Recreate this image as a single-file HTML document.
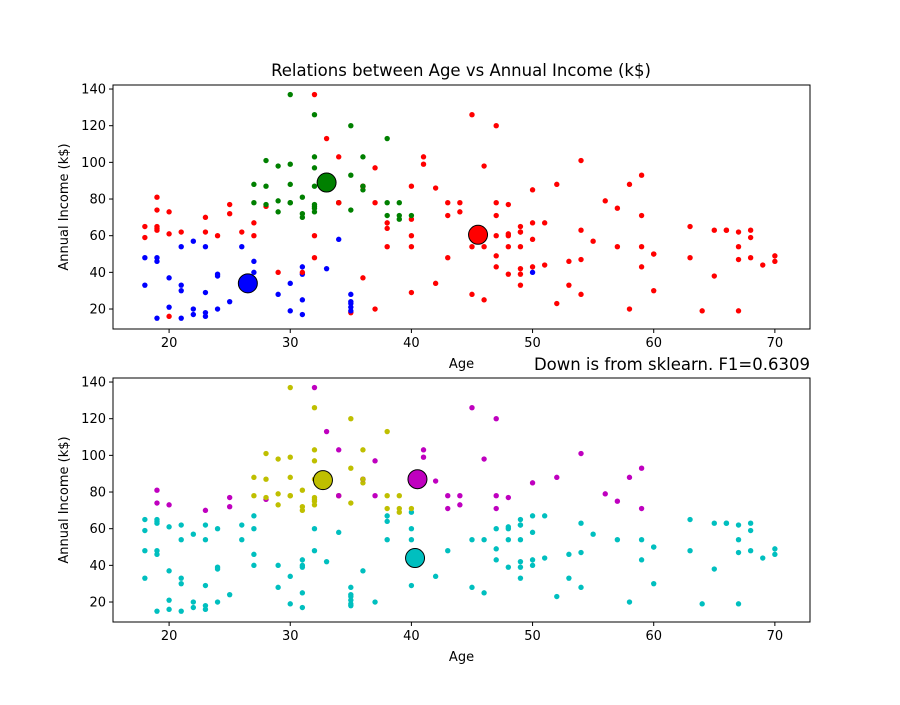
<!DOCTYPE html>
<html><head><meta charset="utf-8"><style>
body{margin:0;background:#fff;}
svg{font-family:"DejaVu Sans","Liberation Sans",sans-serif;}
</style></head><body>
<svg id="fig" width="900" height="700" xmlns="http://www.w3.org/2000/svg"></svg>
<script>
const ages=[19,21,20,23,31,22,35,23,64,30,67,35,58,24,37,22,35,20,52,35,35,25,46,31,54,29,45,35,40,23,60,21,53,18,49,21,42,30,36,20,65,24,48,31,49,24,50,27,29,31,49,33,31,59,50,47,51,69,27,53,70,19,67,54,63,18,43,68,19,32,70,47,60,60,59,26,45,40,23,49,57,38,67,46,21,48,55,22,34,50,68,18,48,40,32,24,47,27,48,20,23,49,67,26,49,21,66,54,68,66,65,19,38,19,18,19,63,49,51,50,27,38,40,39,23,31,43,40,59,38,47,39,25,31,20,29,44,32,19,35,57,32,28,32,25,28,48,32,34,34,43,39,44,38,47,27,37,30,34,30,56,29,19,31,50,36,42,33,36,32,40,28,36,36,52,30,58,27,59,35,37,32,46,29,41,30,54,28,41,36,34,32,33,38,47,35,45,32,32,30];
const incomes=[15,15,16,16,17,17,18,18,19,19,19,19,20,20,20,20,21,21,23,23,24,24,25,25,28,28,28,28,29,29,30,30,33,33,33,33,34,34,37,37,38,38,39,39,39,39,40,40,40,40,42,42,43,43,43,43,44,44,46,46,46,46,47,47,48,48,48,48,48,48,49,49,50,50,54,54,54,54,54,54,54,54,54,54,54,54,57,57,58,58,59,59,60,60,60,60,60,60,61,61,62,62,62,62,62,62,63,63,63,63,63,63,64,64,65,65,65,65,67,67,67,67,69,69,70,70,71,71,71,71,71,71,72,72,73,73,73,73,74,74,75,75,76,76,77,77,77,77,78,78,78,78,78,78,78,78,78,78,78,78,79,79,81,81,85,85,86,86,87,87,87,87,87,87,88,88,88,88,93,93,97,97,98,98,99,99,101,101,103,103,103,103,113,113,120,120,126,126,137,137];
const spending=[39,81,6,77,40,76,6,94,3,72,14,99,15,77,13,79,35,66,29,98,35,73,5,73,14,82,32,61,31,87,4,73,4,92,14,81,17,73,26,75,35,92,36,61,28,65,55,47,42,42,52,60,54,60,45,41,50,46,51,46,56,55,52,59,51,59,50,48,59,47,55,42,49,56,47,54,53,48,52,42,51,55,41,44,57,46,58,55,60,46,55,41,49,40,42,52,47,50,42,49,41,48,59,55,56,42,50,46,43,48,52,54,42,46,48,50,43,59,43,57,56,40,58,91,29,77,35,95,11,75,9,75,34,71,5,88,7,73,10,72,5,93,40,87,12,97,36,74,22,90,17,88,20,76,16,89,1,78,1,73,35,83,5,93,26,75,20,95,27,63,13,75,10,92,13,86,15,69,14,90,32,86,15,88,39,97,24,68,17,85,23,69,8,91,16,79,28,74,18,83];
// centroids [age, income, spending]
const topCentroids=[[26.5,34,70],[33,89,82],[45.5,60.5,35]];
const topColors=["#0000ff","#008000","#ff0000"];
const botCentroids=[[40.3,44,49.8],[32.7,86.5,82.1],[40.5,87,18.6]];
const botColors=["#00bfbf","#bfbf00","#bf00bf"];
const xTicks=[20,30,40,50,60,70];
const yTicks=[20,40,60,80,100,120,140];

const NS="http://www.w3.org/2000/svg";
const svg=document.getElementById('fig');
function mk(tag,attrs,parent){const e=document.createElementNS(NS,tag);for(const k in attrs)e.setAttribute(k,attrs[k]);(parent||svg).appendChild(e);return e;}
const X0=113,X1=810;
const xmin=15.37,xmax=72.9;
function xs(v){return X0+(v-xmin)/(xmax-xmin)*(X1-X0);}
function nearest(i,cents){let b=0,bd=1e18;cents.forEach((c,k)=>{const d=(ages[i]-c[0])**2+(incomes[i]-c[1])**2+(spending[i]-c[2])**2;if(d<bd){bd=d;b=k;}});return b;}

function panel(name,top,bottom,cents,colors){
  const ymin=9.1,ymax=142.2;
  const ys=v=>bottom-(v-ymin)/(ymax-ymin)*(bottom-top);
  const g=mk('g',{});
  
  
  for(let i=0;i<ages.length;i++){
    const k=nearest(i,cents);
    const c=mk('circle',{cx:xs(ages[i]),cy:ys(incomes[i]),r:2.7,fill:colors[k]},g);
    
    
  }
  cents.forEach((c,k)=>{
    const e=mk('circle',{cx:xs(c[0]),cy:ys(c[1]),r:9.5,fill:colors[k],stroke:'#000','stroke-width':1},g);
    
    
  });
  const fr=mk('rect',{x:X0,y:top,width:X1-X0,height:bottom-top,fill:'none',stroke:'#000','stroke-width':1},g);
  
  
  xTicks.forEach(t=>{
    mk('line',{x1:xs(t),x2:xs(t),y1:bottom,y2:bottom+4,stroke:'#000'},g);
    const tx=mk('text',{x:xs(t),y:bottom+18,'text-anchor':'middle','font-size':13},g);tx.textContent=t;
    
    
  });
  yTicks.forEach(t=>{
    mk('line',{x1:X0-4,x2:X0,y1:ys(t),y2:ys(t),stroke:'#000'},g);
    const tx=mk('text',{x:X0-7,y:ys(t)+4.5,'text-anchor':'end','font-size':13},g);tx.textContent=t;
    
    
  });
  const xl=mk('text',{x:(X0+X1)/2,y:bottom+39,'text-anchor':'middle','font-size':13},g);xl.textContent='Age';
  
  
  const cy=(top+bottom)/2;
  const yl=mk('text',{x:68,y:cy,'text-anchor':'middle','font-size':13,transform:`rotate(-90 68 ${cy})`},g);yl.textContent='Annual Income (k$)';
  
  
}
panel('top-scatter',85,329,topCentroids,topColors);
panel('bottom-scatter',378,622,botCentroids,botColors);
const t=mk('text',{x:461,y:76,'text-anchor':'middle','font-size':16.5});t.textContent='Relations between Age vs Annual Income (k$)';


const t2=mk('text',{x:810,y:370,'text-anchor':'end','font-size':16.5});t2.textContent='Down is from sklearn. F1=0.6309';


</script>
</body></html>
